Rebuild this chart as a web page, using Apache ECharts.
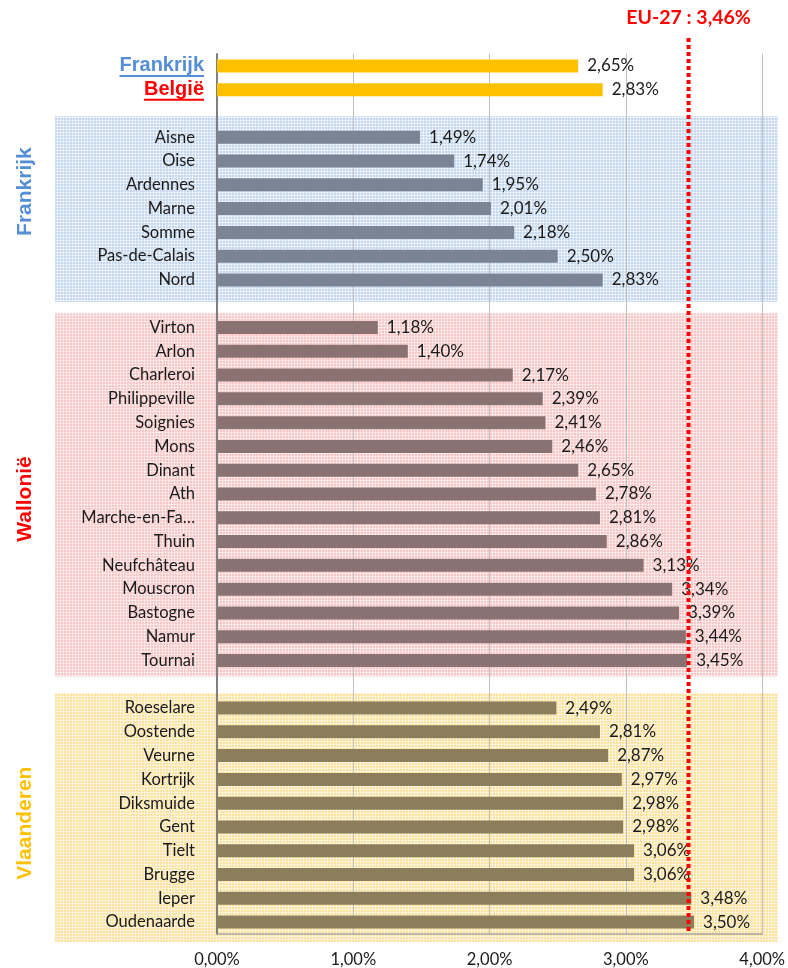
<!DOCTYPE html>
<html><head><meta charset="utf-8">
<script src="https://cdn.jsdelivr.net/npm/echarts@6/dist/echarts.min.js"></script>
<style>html,body{margin:0;padding:0;background:#fff}#c{width:788px;height:968px}</style>
</head><body><div id="c"></div>
<script>
// ---- data ----
const totalCats = ['Frankrijk', 'België'];
const totalValues = [2.65, 2.83];
const franceCats = ['Aisne', 'Oise', 'Ardennes', 'Marne', 'Somme', 'Pas-de-Calais', 'Nord'];
const franceValues = [1.49, 1.74, 1.95, 2.01, 2.18, 2.50, 2.83];
const walloniaCats = ['Virton', 'Arlon', 'Charleroi', 'Philippeville', 'Soignies', 'Mons', 'Dinant', 'Ath', 'Marche-en-Fa…', 'Thuin', 'Neufchâteau', 'Mouscron', 'Bastogne', 'Namur', 'Tournai'];
const walloniaValues = [1.18, 1.40, 2.17, 2.39, 2.41, 2.46, 2.65, 2.78, 2.81, 2.86, 3.13, 3.34, 3.39, 3.44, 3.45];
const flandersCats = ['Roeselare', 'Oostende', 'Veurne', 'Kortrijk', 'Diksmuide', 'Gent', 'Tielt', 'Brugge', 'Ieper', 'Oudenaarde'];
const flandersValues = [2.49, 2.81, 2.87, 2.97, 2.98, 2.98, 3.06, 3.06, 3.48, 3.50];
const euValue = 3.46;
const euLabel = 'EU-27 : 3,46%';
const regionLabels = ['Frankrijk', 'Wallonië', 'Vlaanderen'];
const xTickMin = 0, xTickMax = 4, xTickStep = 1;

// ---- build ----
const groups = [
  {cats: totalCats, vals: totalValues, color: '#FFC000'},
  {cats: franceCats, vals: franceValues, color: '#7A8494'},
  {cats: walloniaCats, vals: walloniaValues, color: '#8A7273'},
  {cats: flandersCats, vals: flandersValues, color: '#8C7E5A'}
];
const categories = [];
const barData = [];
groups.forEach((g, gi) => {
  if (gi > 0) { categories.push('__gap' + gi); barData.push('-'); }
  g.cats.forEach((c, i) => {
    categories.push(c);
    barData.push({value: g.vals[i], itemStyle: {color: g.color}});
  });
});

function pct(v) { return Number(v).toFixed(2).replace('.', ',') + '%'; }

function pattern(col, col2) {
  const c = document.createElement('canvas');
  c.width = 3; c.height = 3;
  const x = c.getContext('2d');
  x.fillStyle = '#ffffff'; x.fillRect(0, 0, 3, 3);
  x.fillStyle = col2; x.fillRect(0, 1, 3, 2); x.fillRect(1, 0, 2, 3);
  x.fillStyle = col; x.fillRect(1, 1, 2, 2);
  return {image: c, repeat: 'repeat'};
}

const FONT = 'Lato';
const chart = echarts.init(document.getElementById('c'));
chart.setOption({
  animation: false,
  grid: {left: 217, right: 23, top: 54, bottom: 34},
  xAxis: {
    type: 'value', min: xTickMin, max: xTickMax, interval: xTickStep,
    axisLine: {show: true, lineStyle: {color: '#a6a6a6', width: 1.5}},
    axisTick: {show: false},
    splitLine: {show: true, lineStyle: {color: '#bfbfbf', width: 1}},
    axisLabel: {formatter: pct, fontFamily: FONT, fontSize: 16.5, color: '#1a1a1a', margin: 17}
  },
  yAxis: {
    type: 'category', inverse: true, data: categories,
    axisLine: {show: true, lineStyle: {color: '#7f7f7f', width: 2}},
    axisTick: {show: false},
    splitLine: {show: false},
    axisLabel: {
      interval: 0, margin: 13,
      formatter: function (v, i) {
        if (v.indexOf('__gap') === 0) return '';
        if (v === totalCats[0] && i === 0) return '{t0|' + v + '}';
        if (v === totalCats[1] && i === 1) return '{t1|' + v + '}';
        return '{c|' + v + '}';
      },
      rich: {
        t0: {color: '#558ED5', fontFamily: 'Liberation Sans', fontWeight: 'bold', fontSize: 20},
        t1: {color: '#FF0000', fontFamily: 'Liberation Sans', fontWeight: 'bold', fontSize: 20},
        c: {color: '#1a1a1a', fontFamily: FONT, fontSize: 16.5, padding: [0, 9, 0, 0]}
      }
    }
  },
  series: [{
    type: 'bar', data: barData, barWidth: 13, z: 3,
    label: {show: true, position: 'right', distance: 9, formatter: p => pct(p.value),
      fontFamily: FONT, fontSize: 17, color: '#1a1a1a'}
  }]
});

// decorative graphics positioned from the axes
const yOf = c => chart.convertToPixel({yAxisIndex: 0}, c);
const xOf = v => chart.convertToPixel({xAxisIndex: 0}, v);
const band = yOf(categories[1]) - yOf(categories[0]);
const rectLeft = 55, rectRight = 778;
function region(first, last, topF, botF, col, col2) {
  const y0 = yOf(first) - band * topF, y1 = yOf(last) + band * botF;
  return {type: 'rect', z: -10, shape: {x: rectLeft, y: y0, width: rectRight - rectLeft, height: y1 - y0},
    style: {fill: pattern(col, col2)}, silent: true};
}
const mctx = document.createElement('canvas').getContext('2d');
mctx.font = 'bold 20px "Liberation Sans"';
const labelRight = 217 - 13;
function underline(name, col) {
  const w = mctx.measureText(name).width;
  const y = yOf(name) + 10;
  return {type: 'line', z: 10, shape: {x1: labelRight - w, y1: y, x2: labelRight, y2: y}, style: {stroke: col, lineWidth: 2}};
}
const gridBottom = chart.getHeight() - 34;
const euX = xOf(euValue);
chart.setOption({
  graphic: [
    region(franceCats[0], franceCats[franceCats.length - 1], 0.88, 0.93, '#C6D9F1', '#E1EAF7'),
    region(walloniaCats[0], walloniaCats[walloniaCats.length - 1], 0.6, 0.67, '#F9C8C8', '#FCE0E0'),
    region(flandersCats[0], flandersCats[flandersCats.length - 1], 0.63, 0.84, '#FDE3A2', '#FEF0CC'),
    underline(totalCats[0], '#558ED5'),
    underline(totalCats[1], '#FF0000'),
    {type: 'line', z: 20, shape: {x1: euX, y1: 38, x2: euX, y2: gridBottom},
      style: {stroke: '#FF0000', lineWidth: 4, lineDash: [4, 3]}},
    {type: 'text', z: 20, x: euX, y: 18, style: {text: euLabel, fill: '#FF0000',
      font: 'bold 19.5px Lato', textAlign: 'center', textVerticalAlign: 'middle'}},
    {type: 'text', z: 20, x: 25, y: yOf(franceCats[3]) - 17, rotation: Math.PI / 2,
      style: {text: regionLabels[0], fill: '#558ED5', font: 'bold 21px "Liberation Sans"', textAlign: 'center', textVerticalAlign: 'middle'}},
    {type: 'text', z: 20, x: 25, y: yOf(walloniaCats[7]) + 5, rotation: Math.PI / 2,
      style: {text: regionLabels[1], fill: '#FF0000', font: 'bold 21px "Liberation Sans"', textAlign: 'center', textVerticalAlign: 'middle'}},
    {type: 'text', z: 20, x: 25, y: yOf(flandersCats[4]) + 20, rotation: Math.PI / 2,
      style: {text: regionLabels[2], fill: '#FFC000', font: 'bold 21px "Liberation Sans"', textAlign: 'center', textVerticalAlign: 'middle'}}
  ]
});
</script></body></html>
